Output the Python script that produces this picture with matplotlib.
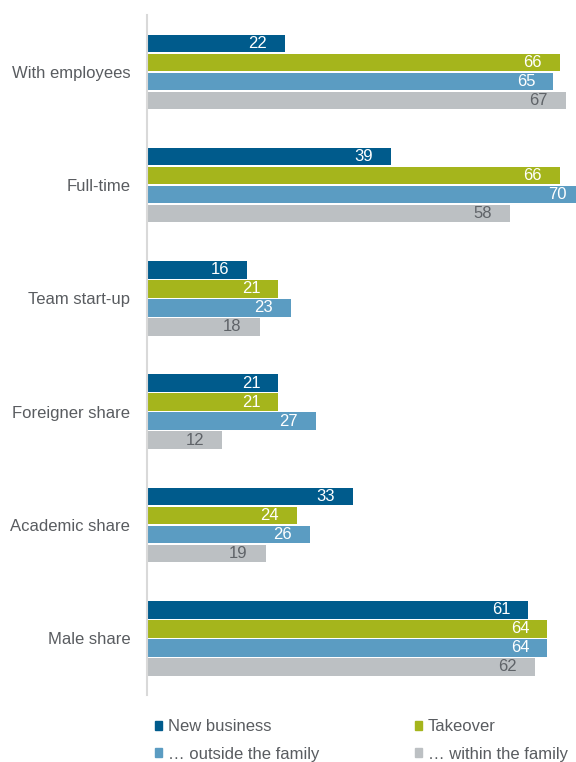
import numpy as np
import matplotlib.pyplot as plt
from matplotlib.patches import Patch

plt.rcParams['font.family'] = ['Liberation Sans', 'DejaVu Sans']

categories = ['With employees', 'Full-time', 'Team start-up',
              'Foreigner share', 'Academic share', 'Male share']
new_business = [22, 39, 16, 21, 33, 61]
takeover = [66, 66, 21, 21, 24, 64]
outside_family = [65, 70, 23, 27, 26, 64]
within_family = [67, 58, 18, 12, 19, 62]

series = [
    ('New business', new_business, '#005b8c', 'white'),
    ('Takeover', takeover, '#a5b51c', 'white'),
    ('\u2026 outside the family', outside_family, '#5b9cc2', 'white'),
    ('\u2026 within the family', within_family, '#bcc0c3', '#5f6368'),
]

fig = plt.figure(figsize=(5.76, 7.62), dpi=100)
ax = fig.add_axes([0.2552, 0.088, 0.7448, 0.892])

y = np.arange(len(categories))
h = 0.155
step = 0.1675
offsets = (np.arange(4) - 1.5) * step

for (name, vals, color, tcol), off in zip(series, offsets):
    ax.barh(y + off, vals, height=h, color=color, label=name)
    for yi, v in zip(y, vals):
        ax.annotate(str(v), xy=(v, yi + off), xytext=(-13, 0),
                    textcoords='offset points', ha='right', va='center',
                    color=tcol, fontsize=12, annotation_clip=False)

ax.set_xlim(0, 68.6)
ax.set_ylim(5.5, -0.5)
ax.set_yticks(y)
ax.set_yticklabels(categories, fontsize=12, color='#595c60')
ax.tick_params(axis='y', length=0, pad=12)
ax.set_xticks([])
for s in ['top', 'right', 'bottom']:
    ax.spines[s].set_visible(False)
ax.spines['left'].set_color('#d9d9d9')
ax.spines['left'].set_linewidth(1.5)

# legend is filled column by column, so order for row-wise reading
order = [0, 2, 1, 3]
handles = [Patch(color=series[i][2]) for i in order]
labels = [series[i][0] for i in order]
fig.legend(handles, labels, ncol=2, loc='upper left',
           bbox_to_anchor=(0.243, 0.076), frameon=False, fontsize=12,
           handlelength=0.45, handleheight=0.45, handletextpad=0.35,
           columnspacing=5.7, labelspacing=0.75, labelcolor='#595c60')

fig.savefig('out.png', dpi=100)
